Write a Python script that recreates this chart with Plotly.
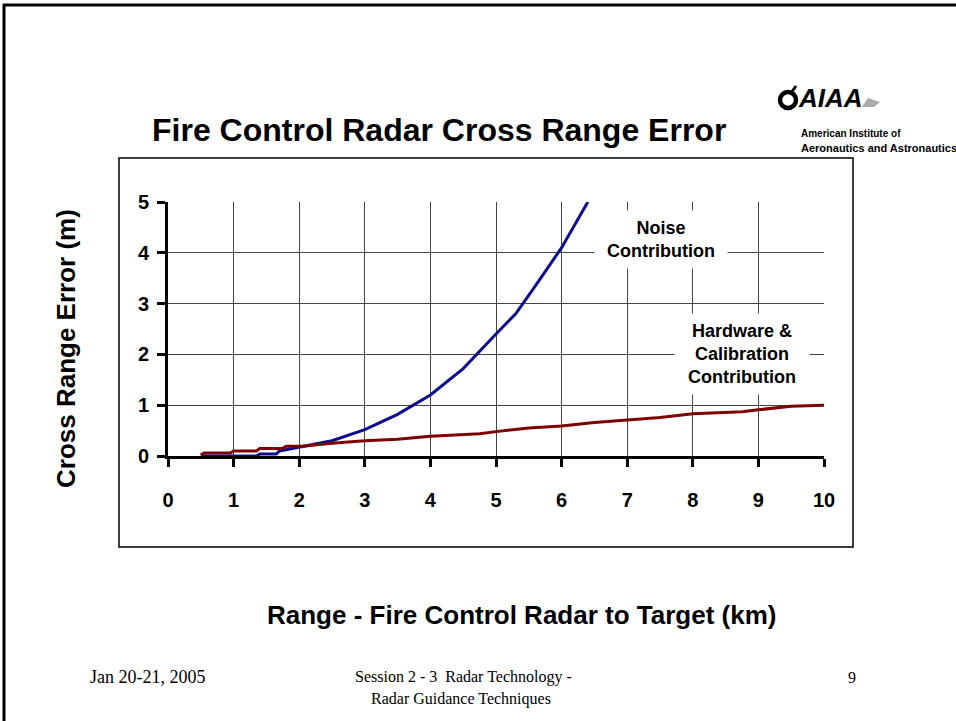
import plotly.graph_objects as go

# Noise contribution (blue) and hardware & calibration contribution (red)
noise_x = [0.5, 1.35, 1.4, 1.65, 1.7, 2.0, 2.5, 3.0, 3.5, 4.0, 4.5, 5.0, 5.3, 5.6, 6.0, 6.4]
noise_y = [0.0, 0.0, 0.04, 0.04, 0.1, 0.17, 0.3, 0.52, 0.82, 1.2, 1.72, 2.4, 2.8, 3.35, 4.1, 5.0]

hw_x = [0.5, 0.55, 0.95, 1.0, 1.35, 1.4, 1.75, 1.8, 2.05, 2.5, 3.0, 3.5, 4.0, 4.5, 4.75,
        5.0, 5.5, 6.0, 6.5, 7.0, 7.5, 8.0, 8.5, 8.75, 9.0, 9.5, 10.0]
hw_y = [0.02, 0.06, 0.06, 0.1, 0.1, 0.15, 0.15, 0.19, 0.19, 0.25, 0.3, 0.33, 0.39, 0.43, 0.44,
        0.48, 0.55, 0.59, 0.66, 0.71, 0.76, 0.83, 0.86, 0.87, 0.91, 0.98, 1.0]

x_ticks = [0, 1, 2, 3, 4, 5, 6, 7, 8, 9, 10]
y_ticks = [0, 1, 2, 3, 4, 5]

W, H = 956, 721
L, R, T, B = 168, 132, 202, 265
PW, PH = W - L - R, H - T - B


# pixel position on the slide -> paper coordinates
def px(x):
    return (x - L) / PW


def py(y):
    return (H - B - y) / PH


SANS = "Arial, Liberation Sans, sans-serif"
SERIF = "Times New Roman, Liberation Serif, serif"

fig = go.Figure()
fig.add_trace(go.Scatter(x=noise_x, y=noise_y, mode="lines",
                         line=dict(color="#0a0a8a", width=3), name="Noise"))
fig.add_trace(go.Scatter(x=hw_x, y=hw_y, mode="lines",
                         line=dict(color="#7d0000", width=3), name="Hardware"))

fig.update_xaxes(range=[0, 10], tickvals=x_ticks, showgrid=True, gridcolor="#444",
                 gridwidth=1, zeroline=False, showline=True, linecolor="black", linewidth=3,
                 ticks="outside", ticklen=8, tickwidth=3, tickcolor="black",
                 ticklabelstandoff=16, layer="below traces",
                 tickfont=dict(family=SANS, size=20, color="black", weight="bold"))
fig.update_yaxes(range=[0, 5], tickvals=y_ticks, showgrid=True, gridcolor="#444",
                 gridwidth=1, zeroline=False, showline=True, linecolor="black", linewidth=3,
                 ticks="outside", ticklen=8, tickwidth=3, tickcolor="black",
                 ticklabelstandoff=4, layer="below traces",
                 tickfont=dict(family=SANS, size=20, color="black", weight="bold"))

shapes = [
    # slide border (left and top)
    dict(type="line", xref="paper", yref="paper", x0=px(4), x1=px(4), y0=py(4), y1=py(730),
         line=dict(color="black", width=3)),
    dict(type="line", xref="paper", yref="paper", x0=px(3), x1=px(960), y0=py(5), y1=py(5),
         line=dict(color="black", width=3)),
    # chart frame
    dict(type="rect", xref="paper", yref="paper", x0=px(119), x1=px(853), y0=py(547), y1=py(158),
         line=dict(color="black", width=1.5), layer="below"),
    # logo ring
    dict(type="circle", xref="paper", yref="paper", x0=px(780), x1=px(796), y0=py(108), y1=py(92),
         line=dict(color="black", width=4.5)),
    dict(type="line", xref="paper", yref="paper", x0=px(791), x1=px(796), y0=py(93), y1=py(86),
         line=dict(color="black", width=3)),
    dict(type="path", xref="paper", yref="paper",
         path=f"M {px(862)},{py(107)} L {px(874)},{py(107)} L {px(880)},{py(102)} L {px(868)},{py(98)} Z",
         fillcolor="#aaa", line=dict(width=0)),
]

annotations = [
    dict(text="<b>Fire Control Radar Cross Range Error</b>", x=px(439), y=py(130),
         font=dict(family=SANS, size=32, color="black")),
    dict(text="<b>Cross Range Error (m)</b>", x=px(66), y=py(349), textangle=-90,
         font=dict(family=SANS, size=26, color="black")),
    dict(text="<b>Range - Fire Control Radar to Target (km)</b>", x=px(521), y=py(615),
         font=dict(family=SANS, size=26, color="black")),
    dict(text="<b>Noise<br>Contribution</b>", x=px(661), y=py(239), width=130, height=55,
         bgcolor="white", font=dict(family=SANS, size=18, color="black")),
    dict(text="<b>Hardware &<br>Calibration<br>Contribution</b>", x=px(742), y=py(354),
         width=132, height=78, bgcolor="white", font=dict(family=SANS, size=18, color="black")),
    dict(text="<b><i>AIAA</i></b>", x=px(796), y=py(98), xanchor="left",
         font=dict(family=SANS, size=26, color="black")),
    dict(text="<b>American Institute of</b>", x=px(799), y=py(133), xanchor="left",
         font=dict(family=SANS, size=10, color="black")),
    dict(text="<b>Aeronautics and Astronautics</b>", x=px(799), y=py(148), xanchor="left",
         font=dict(family=SANS, size=11, color="black")),
    dict(text="Jan 20-21, 2005", x=px(148), y=py(677),
         font=dict(family=SERIF, size=18, color="black")),
    dict(text="Session 2 - 3\u00a0 Radar Technology -", x=px(463), y=py(677),
         font=dict(family=SERIF, size=16, color="black")),
    dict(text="Radar Guidance Techniques", x=px(461), y=py(699),
         font=dict(family=SERIF, size=16, color="black")),
    dict(text="9", x=px(852), y=py(677),
         font=dict(family=SERIF, size=16, color="black")),
]
for a in annotations:
    a.setdefault("xref", "paper")
    a.setdefault("yref", "paper")
    a.setdefault("xanchor", "center")
    a.setdefault("yanchor", "middle")
    a.setdefault("showarrow", False)

fig.update_layout(width=W, height=H, margin=dict(l=L, r=R, t=T, b=B),
                  paper_bgcolor="white", plot_bgcolor="white", showlegend=False,
                  shapes=shapes, annotations=annotations)

# drop the default page margin so the slide sits at the window's corner
fig.write_html("out.html", config={"displayModeBar": False},
               post_script="document.body.style.margin='0';")
